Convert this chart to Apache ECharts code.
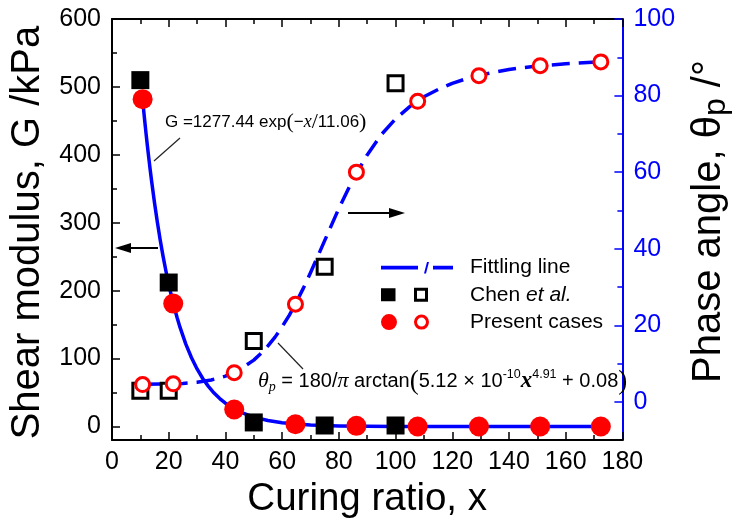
<!DOCTYPE html>
<html><head><meta charset="utf-8">
<script src="https://cdn.jsdelivr.net/npm/echarts@6/dist/echarts.min.js"></script>
<style>html,body{margin:0;padding:0;background:#fff}#c{width:740px;height:524px}</style>
</head><body><div id="c"></div>
<script>
// ---- tick labels ----
const gTickLabels = [0, 100, 200, 300, 400, 500, 600];
const gMinorTicks = [50, 150, 250, 350, 450, 550];
const thetaTickLabels = [0, 20, 40, 60, 80, 100];
const thetaMinorTicks = [10, 30, 50, 70, 90];

// ---- Chen et al. (squares) ----
const chenX = [10, 20, 50, 75, 100];
const chenG = [510, 212, 6, 1.5, 1.5];
const chenTheta = [2.9, 2.9, 15.9, 35.3, 83.2];

// ---- Present cases (circles) ----
const presentX = [10.8, 21.6, 43.1, 64.7, 86.2, 107.8, 129.4, 151.0, 172.4];
const presentG = [482, 181, 25, 3.4, 1, 0, 0, 0, 0];
const presentTheta = [4.5, 4.7, 7.6, 25.5, 60.0, 78.5, 85.2, 87.8, 88.8];

// ---- Fitting lines ----
const gFitX = [10.8, 11.5, 12, 12.5, 13, 13.5, 14, 15, 16, 17, 18, 19, 20, 21, 22, 23, 24, 26, 28, 30, 32, 34, 36, 38, 40, 43, 46, 50, 55, 60, 65, 70, 80, 90, 100, 120, 172.4];
const gFitY = [481, 451.6, 431.6, 412.6, 394.4, 377, 360.3, 329.1, 300.6, 274.7, 250.9, 229.3, 209.4, 191.4, 174.8, 159.7, 145.9, 121.7, 101.6, 84.8, 70.7, 59.1, 49.3, 41.1, 34.3, 26.2, 20, 13.9, 8.8, 5.6, 3.6, 2.3, 0.9, 0.4, 0.15, 0, 0];
const thetaFitX = [10.8, 20, 25, 30, 35, 40, 45, 50, 52.5, 55, 57.5, 60, 62.5, 65, 67.5, 70, 75, 80, 85, 90, 95, 100, 105, 110, 115, 120, 125, 130, 135, 140, 145, 150, 160, 172.4];
const thetaFitY = [4.6, 4.7, 4.8, 5.1, 5.7, 6.7, 8.4, 10.9, 12.6, 14.6, 16.9, 19.6, 22.6, 26.0, 29.7, 33.7, 42.1, 50.5, 58.1, 64.5, 69.8, 73.9, 77.1, 79.7, 81.6, 83.2, 84.4, 85.4, 86.1, 86.8, 87.3, 87.7, 88.3, 88.8];

const FONT = 'Liberation Sans, Arial, sans-serif';
const SERIF = 'Liberation Serif, Times New Roman, serif';
const BLUE = '#0000FF', RED = '#FF0000';
const pairs = (xs, ys) => xs.map((x, i) => [x, ys[i]]);

const lineIcon = 'path://M0 0L0 0M72 17L72 17M0 6.7L37 6.7L37 10.5L0 10.5ZM43 14.5L45 14.5L48 3L46 3ZM52 6.7L72 6.7L72 10.5L52 10.5Z';
const squareIcon = 'path://M0 0L0 0M72 17L72 17M0 2L14.5 2L14.5 15L0 15ZM33 1.5L47 1.5L47 15.5L33 15.5ZM36 4.5L36 12.5L44 12.5L44 4.5Z';
const circleIcon = 'path://M0 0L0 0M72 17L72 17M0 8.5A8 8 0 1 1 16 8.5A8 8 0 1 1 0 8.5ZM33 8.5A7.5 7.5 0 1 1 48 8.5A7.5 7.5 0 1 1 33 8.5ZM36 8.5A4.5 4.5 0 1 0 45 8.5A4.5 4.5 0 1 0 36 8.5Z';

function xAxisCfg(pos, withLabels) {
  return {
    type: 'value', min: 0, max: 180, interval: 20, position: pos,
    axisLine: { show: true, onZero: false, lineStyle: { color: '#000', width: 2 } },
    axisTick: { show: true, inside: true, length: 8, lineStyle: { color: '#000', width: 1.5 } },
    minorTick: { show: true, splitNumber: 2, length: 5, lineStyle: { color: '#000', width: 1.5 } },
    axisLabel: { show: withLabels, fontSize: 25, color: '#000', margin: 10, fontFamily: FONT },
    splitLine: { show: false }, minorSplitLine: { show: false }
  };
}
function yAxisCfg(pos, min, max, color, ticks, len, labels, lineShow) {
  return {
    type: 'value', min: min, max: max, position: pos,
    axisLine: { show: lineShow, onZero: false, lineStyle: { color: color, width: 2 } },
    axisTick: { show: true, inside: true, length: len, customValues: ticks, lineStyle: { color: color, width: 1.5 } },
    axisLabel: labels ? { show: true, customValues: labels, fontSize: 25, color: color, margin: 11, fontFamily: FONT } : { show: false },
    splitLine: { show: false }
  };
}

const chart = echarts.init(document.getElementById('c'), null, { renderer: 'canvas' });

const yLeft = yAxisCfg('left', -20, 600, '#000', gTickLabels, 8, gTickLabels, true);
Object.assign(yLeft, {
  name: 'Shear modulus, G /kPa', nameLocation: 'middle', nameRotate: 90, nameGap: 63,
  nameTextStyle: { fontSize: 40, color: '#000', fontFamily: FONT, padding: [0, 6, 0, 0] }
});
const yRight = yAxisCfg('right', -10, 100, BLUE, thetaTickLabels, 8, thetaTickLabels, true);
Object.assign(yRight, {
  name: '{a|Phase angle, θ}{s|p}{a| /°}', nameLocation: 'middle', nameRotate: 90, nameGap: 44,
  nameTextStyle: {
    fontSize: 40, color: '#000', fontFamily: FONT, padding: [0, 0, 0, 16],
    rich: {
      a: { fontSize: 40, color: '#000', fontFamily: FONT, lineHeight: 46 },
      s: { fontSize: 32, color: '#000', fontFamily: FONT, lineHeight: 46, padding: [14, 0, 0, 0] }
    }
  }
});
const xBottom = xAxisCfg('bottom', true);
Object.assign(xBottom, {
  name: 'Curing ratio, x', nameLocation: 'middle', nameGap: 37,
  nameTextStyle: { fontSize: 38.5, color: '#000', fontFamily: FONT }
});

const eqRich = {
  t: { fontSize: 17, fontFamily: FONT, color: '#111', lineHeight: 26 },
  i: { fontSize: 18, fontFamily: SERIF, fontStyle: 'italic', color: '#111', lineHeight: 26 },
  p: { fontSize: 22, fontFamily: SERIF, color: '#777', lineHeight: 26 },
  g: { fontSize: 17, fontFamily: FONT, color: '#666', lineHeight: 26 }
};
const eq2Rich = {
  t: { fontSize: 20, fontFamily: FONT, color: '#111', lineHeight: 28 },
  i: { fontSize: 22, fontFamily: SERIF, fontStyle: 'italic', color: '#333', lineHeight: 28 },
  xb: { fontSize: 23, fontFamily: SERIF, fontStyle: 'italic', fontWeight: 'bold', color: '#111', lineHeight: 28 },
  sub: { fontSize: 14, fontFamily: SERIF, fontStyle: 'italic', color: '#333', lineHeight: 28, padding: [12, 0, 0, 0] },
  sup: { fontSize: 12.5, fontFamily: FONT, color: '#333', lineHeight: 28, padding: [0, 0, 13, 0] },
  g: { fontSize: 20, fontFamily: FONT, color: '#777', lineHeight: 28 },
  p: { fontSize: 27, fontFamily: SERIF, color: '#777', lineHeight: 28 }
};

const option = {
  animation: false,
  backgroundColor: '#fff',
  grid: { left: 112, top: 19, width: 528, height: 424, containLabel: false },
  xAxis: [xBottom, xAxisCfg('top', false)],
  yAxis: [
    yLeft, yRight,
    yAxisCfg('left', -20, 600, '#000', gMinorTicks, 5, null, false),
    yAxisCfg('right', -10, 100, BLUE, thetaMinorTicks, 5, null, false)
  ],
  legend: {
    orient: 'vertical', left: 376, top: 252, itemWidth: 72, itemHeight: 17, itemGap: 6.3,
    selectedMode: false,
    itemStyle: { borderWidth: 0 },
    textStyle: {
      fontSize: 21, color: '#000', fontFamily: FONT, padding: [0, 0, 0, 12],
      rich: {
        n: { fontSize: 21, color: '#000', fontFamily: FONT, lineHeight: 22 },
        i: { fontSize: 21, color: '#000', fontFamily: FONT, fontStyle: 'italic', lineHeight: 22 }
      }
    },
    formatter: function (n) { return n === 'Chen et al.' ? '{n|Chen }{i|et al.}' : '{n|' + n + '}'; },
    data: [
      { name: 'Fittling line', icon: lineIcon, itemStyle: { color: BLUE, borderWidth: 0 } },
      { name: 'Chen et al.', icon: squareIcon, itemStyle: { color: '#000', borderWidth: 0 } },
      { name: 'Present cases', icon: circleIcon, itemStyle: { color: RED, borderWidth: 0 } }
    ]
  },
  series: [
    { name: 'Fittling line', type: 'line', xAxisIndex: 0, yAxisIndex: 0, data: pairs(gFitX, gFitY),
      smooth: false, symbol: 'none', showSymbol: false, color: BLUE,
      lineStyle: { color: BLUE, width: 3.5, join: 'round' }, z: 2 },
    { name: 'Fittling line', type: 'line', xAxisIndex: 0, yAxisIndex: 1, data: pairs(thetaFitX, thetaFitY),
      smooth: false, symbol: 'none', showSymbol: false, color: BLUE,
      lineStyle: { color: BLUE, width: 3.5, type: [18, 9], join: 'round' }, z: 2 },
    { name: 'Chen et al.', type: 'scatter', xAxisIndex: 0, yAxisIndex: 0, data: pairs(chenX, chenG),
      symbol: 'rect', symbolSize: 18, itemStyle: { color: '#000', opacity: 1 }, z: 3 },
    { name: 'Chen et al.', type: 'scatter', xAxisIndex: 0, yAxisIndex: 1, data: pairs(chenX, chenTheta),
      symbol: 'rect', symbolSize: 15, itemStyle: { color: '#fff', borderColor: '#000', borderWidth: 3, opacity: 1 }, z: 3 },
    { name: 'Present cases', type: 'scatter', xAxisIndex: 0, yAxisIndex: 0, data: pairs(presentX, presentG),
      symbol: 'circle', symbolSize: 20, itemStyle: { color: RED, opacity: 1 }, z: 4 },
    { name: 'Present cases', type: 'scatter', xAxisIndex: 0, yAxisIndex: 1, data: pairs(presentX, presentTheta),
      symbol: 'circle', symbolSize: 14, itemStyle: { color: '#fff', borderColor: RED, borderWidth: 3, opacity: 1 }, z: 4 }
  ],
  graphic: [
    { type: 'text', left: 165, top: 111, z: 10,
      style: { text: '{t|G =1277.44 exp}{p|(}{g|−}{i|x}{p|/}{t|11.06}{p|)}', rich: eqRich } },
    { type: 'line', z: 10, shape: { x1: 154, y1: 161, x2: 180, y2: 138 }, style: { stroke: '#222', lineWidth: 1.2 } },
    { type: 'text', left: 258, top: 368, z: 10,
      style: { text: '{i|θ}{sub|p}{g| = }{t|180/}{i|π}{t| arctan}{p|(}{t|5.12}{g| × }{t|10}{sup|-10}{xb|x}{sup|4.91}{g| + }{t|0.08}{p|)}', rich: eq2Rich } },
    { type: 'line', z: 10, shape: { x1: 278, y1: 343, x2: 303, y2: 369 }, style: { stroke: '#222', lineWidth: 1.2 } },
    { type: 'line', z: 10, shape: { x1: 158, y1: 248, x2: 126, y2: 248 }, style: { stroke: '#000', lineWidth: 2 } },
    { type: 'polygon', z: 10, shape: { points: [[115, 248], [131, 243], [131, 253]] }, style: { fill: '#000' } },
    { type: 'line', z: 10, shape: { x1: 348, y1: 213, x2: 394, y2: 213 }, style: { stroke: '#000', lineWidth: 2 } },
    { type: 'polygon', z: 10, shape: { points: [[405, 213], [389, 208], [389, 218]] }, style: { fill: '#000' } }
  ]
};
chart.setOption(option);
</script>
</body></html>
